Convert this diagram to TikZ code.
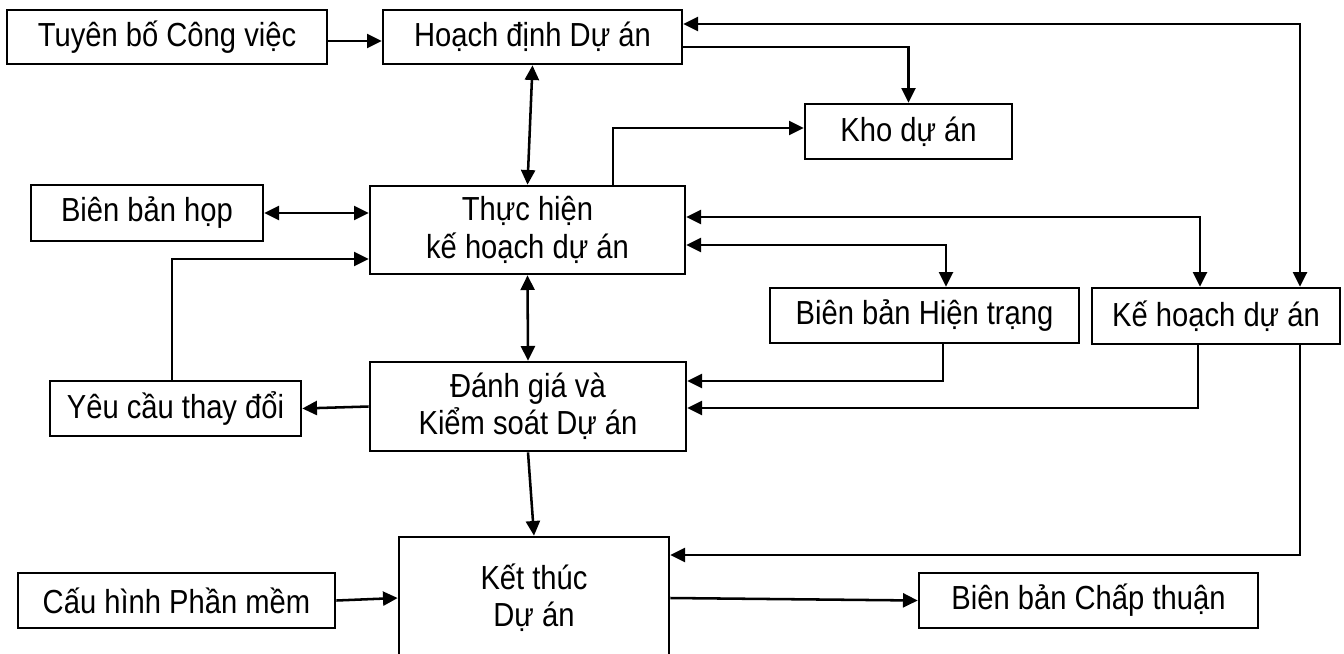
\documentclass[tikz,border=0pt]{standalone}
\usepackage{fontspec}
\setmainfont{Liberation Sans}[FakeStretch=0.875]
\usetikzlibrary{arrows.meta}
\begin{document}
\begin{tikzpicture}[x=0.75pt, y=-0.75pt,
  every node/.style={font=\fontsize{25pt}{28pt}\selectfont},
  box/.style={draw, line width=2pt, rectangle, inner sep=0pt, align=center},
  link/.style={line width=1.9pt},
  arr/.style={link, -{Triangle[length=11pt,width=10.5pt]}},
  darr/.style={link, {Triangle[length=11pt,width=10.5pt]}-{Triangle[length=11pt,width=10.5pt]}}]
\useasboundingbox (0,0) rectangle (1344,653);
\clip (0,0) rectangle (1344,653);

% process steps and documents
\node[box, minimum width=240pt,    minimum height=40.5pt]  (tb)   at (167,37)      {Tuyên bố Công việc};
\node[box, minimum width=224.25pt, minimum height=40.5pt]  (hd)   at (532.5,37)    {Hoạch định Dự án};
\node[box, minimum width=155.25pt, minimum height=41.25pt] (kho)  at (908.5,131.5) {Kho dự án};
\node[box, minimum width=236.25pt, minimum height=66pt]    (th)   at (527.5,230)   {Thực hiện\\kế hoạch dự án};
\node[box, minimum width=174pt,    minimum height=42pt]    (bbh)  at (147,213)     {Biên bản họp};
\node[box, minimum width=231.75pt, minimum height=41.25pt] (bbht) at (924.5,315.5) {Biên bản Hiện trạng};
\node[box, minimum width=186pt,    minimum height=42pt]    (khda) at (1216,316)    {Kế hoạch dự án};
\node[box, minimum width=237pt,    minimum height=66.75pt] (dg)   at (528,406.5)   {Đánh giá và\\Kiểm soát Dự án};
\node[box, minimum width=188.25pt, minimum height=41.25pt] (yc)   at (175.5,408.5) {Yêu cầu thay đổi};
\node[box, minimum width=202.5pt,  minimum height=91.5pt]  (kt)   at (534,598)     {Kết thúc\\Dự án};
\node[box, minimum width=237.75pt, minimum height=41.25pt] (ch)   at (176.5,600.5) {Cấu hình Phần mềm};
\node[box, minimum width=254.25pt, minimum height=41.25pt] (bbct) at (1088.5,600.5) {Biên bản Chấp thuận};

% connectors
\draw[arr]  (tb.east |- 0,41) -- (hd.west |- 0,41);
\draw[darr] (hd.south) -- (th.north);
\draw[arr]  (hd.east |- 0,47) -| (kho.north);
\draw[arr]  (th.north -| 613,0) |- (kho.west |- 0,128);
\draw[darr] (khda.north -| 1300,0) |- (hd.east |- 0,24);
\draw[darr] (bbh.east) -- (th.west |- bbh.east);
\draw[arr]  (yc.north -| 172,0) |- (th.west |- 0,259);
\draw[darr] (th.south) -- (dg.north);
\draw[darr] (th.east |- 0,217) -| (khda.north -| 1200,0);
\draw[darr] (th.east |- 0,245) -| (bbht.north -| 946,0);
\draw[arr]  (bbht.south -| 943,0) |- (dg.east |- 0,381);
\draw[arr]  (khda.south -| 1198,0) |- (dg.east |- 0,408);
\draw[arr]  (dg.west) -- (yc.east);
\draw[arr]  (dg.south) -- (kt.north);
\draw[arr]  (khda.south -| 1300,0) |- (kt.east |- 0,555);
\draw[arr]  (ch.east) -- (kt.west);
\draw[arr]  (kt.east) -- (bbct.west);
\end{tikzpicture}
\end{document}
